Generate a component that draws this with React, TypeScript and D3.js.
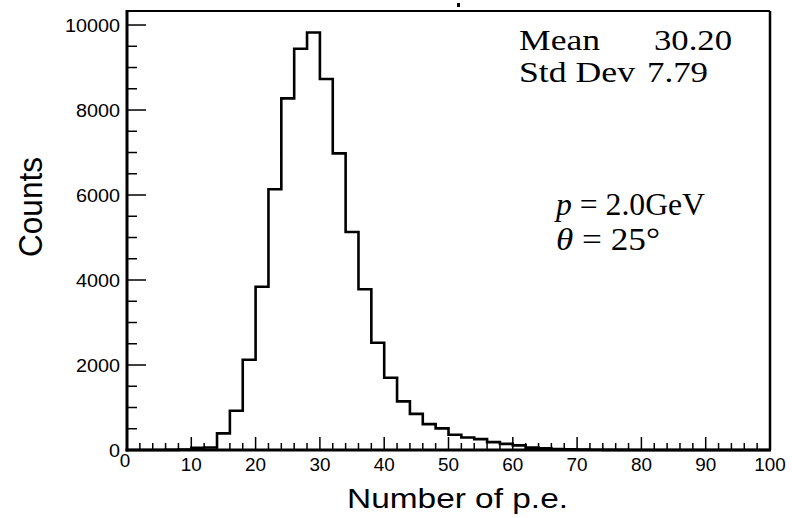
import React from "react";
import * as d3 from "d3";

const binEdges: number[] = d3.range(0, 101, 2);
const counts: number[] = [
  0, 0, 0, 2, 10, 50, 60, 392, 925, 2125,
  3843, 6134, 8275, 9440, 9825, 8729, 6980, 5129, 3781, 2525,
  1700, 1145, 850, 608, 510, 360, 295, 255, 185, 145,
  110, 55, 38, 25, 15, 8, 5, 3, 2, 1,
  0, 0, 0, 0, 0, 0, 0, 0, 0, 0,
];
const xTicks: number[] = [0, 10, 20, 30, 40, 50, 60, 70, 80, 90, 100];
const yTicks: number[] = [0, 2000, 4000, 6000, 8000, 10000];
const statLabels: string[] = ["Mean", "Std Dev"];
const statValues: string[] = ["30.20", "7.79"];

const W = 792, H = 518;
const L = 127, R = 770, T = 11, B = 450;

export default function App() {
  const x = d3.scaleLinear().domain([0, 100]).range([L, R]);
  const y = d3.scaleLinear().domain([0, 10330]).range([B, T]);

  const pts: [number, number][] = [[0, 0]];
  counts.forEach((c, i) => {
    pts.push([binEdges[i], c]);
    pts.push([binEdges[i + 1], c]);
  });
  pts.push([100, 0]);
  const line = d3.line<[number, number]>().x((d) => x(d[0])).y((d) => y(d[1]));

  const xMinor = d3.range(0, 101, 2);
  const yMinor = d3.range(0, 10001, 500);

  return (
    <svg width={W} height={H} style={{ position: "absolute", left: 0, top: 0 }}>
      <rect width={W} height={H} fill="white" />
      <rect x={457} y={3} width={3} height={4} fill="black" />
      <path d={line(pts) || ""} fill="none" stroke="black" strokeWidth={2.6} />
      <line x1={L} y1={T} x2={R} y2={T} stroke="black" strokeWidth={2} />
      <line x1={R} y1={T} x2={R} y2={B} stroke="black" strokeWidth={2.5} />
      <line x1={L} y1={T - 1} x2={L} y2={B + 1.5} stroke="black" strokeWidth={3} />
      <line x1={L - 1.5} y1={B} x2={R + 1} y2={B} stroke="black" strokeWidth={3} />
      {yMinor.map((v) => (
        <line key={"ym" + v} x1={L} x2={L + (v % 2000 === 0 ? 19 : 10)} y1={y(v)} y2={y(v)} stroke="black" strokeWidth={1.5} />
      ))}
      {xMinor.map((v) => (
        <line key={"xm" + v} y1={B} y2={B - (v % 10 === 0 ? 13 : 7)} x1={x(v)} x2={x(v)} stroke="black" strokeWidth={1.5} />
      ))}
      <g fontFamily="Liberation Sans, Arial, sans-serif" fill="black">
        {yTicks.map((v) => (
          <text key={"yl" + v} x={L - 7} y={y(v) + 7} fontSize={18} textAnchor="end"
            textLength={String(v).length * 11} lengthAdjust="spacingAndGlyphs">{v}</text>
        ))}
        {xTicks.map((v) => (
          <text key={"xl" + v} x={x(v) - (v === 0 ? 2 : 0)} y={v === 0 ? 467 : 471} fontSize={19} textAnchor="middle"
            textLength={String(v).length * 10.5} lengthAdjust="spacingAndGlyphs">{v}</text>
        ))}
        <text transform="translate(42,207) rotate(-90)" fontSize={33} textAnchor="middle"
          textLength={100} lengthAdjust="spacingAndGlyphs">Counts</text>
        <text x={347} y={508} fontSize={28} textLength={221} lengthAdjust="spacingAndGlyphs">Number of p.e.</text>
      </g>
      <g fontFamily="Liberation Serif, Times New Roman, serif" fill="black">
        <text x={519} y={50} fontSize={29} textLength={81} lengthAdjust="spacingAndGlyphs">{statLabels[0]}</text>
        <text x={732} y={50} fontSize={29} textAnchor="end" textLength={78} lengthAdjust="spacingAndGlyphs">{statValues[0]}</text>
        <text x={519} y={82} fontSize={29} textLength={116} lengthAdjust="spacingAndGlyphs">{statLabels[1]}</text>
        <text x={708} y={82} fontSize={29} textAnchor="end" textLength={61} lengthAdjust="spacingAndGlyphs">{statValues[1]}</text>
        <text x={556} y={215} fontSize={31} textLength={149} lengthAdjust="spacingAndGlyphs">
          <tspan fontStyle="italic">p</tspan>
          <tspan> = 2.0GeV</tspan>
        </text>
        <text x={556} y={250} fontSize={31} textLength={104} lengthAdjust="spacingAndGlyphs">
          <tspan fontStyle="italic">θ</tspan>
          <tspan> = 25°</tspan>
        </text>
      </g>
    </svg>
  );
}
